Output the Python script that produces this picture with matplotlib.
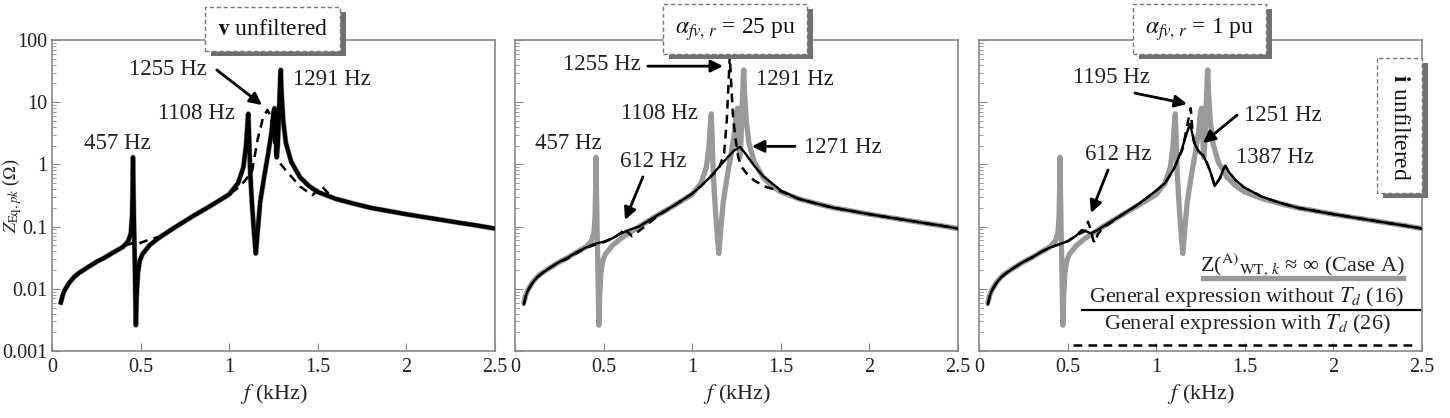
import matplotlib.pyplot as plt
from matplotlib.lines import Line2D
from matplotlib.patches import Rectangle
from matplotlib.transforms import IdentityTransform

plt.rcParams['font.family'] = ['Liberation Serif', 'DejaVu Serif']
plt.rcParams['mathtext.fontset'] = 'stix'

# Case A: Z_WT,k -> infinity (same in all three panels)
f_A = [0.05, 0.06, 0.07, 0.085, 0.1, 0.125, 0.15, 0.2, 0.25, 0.3, 0.35, 0.4, 0.43, 0.445,
       0.452, 0.455, 0.457, 0.459, 0.463, 0.468, 0.473, 0.478, 0.485, 0.495, 0.51, 0.55, 0.6,
       0.7, 0.8, 0.9, 1.0, 1.05, 1.08, 1.095, 1.103, 1.108, 1.112, 1.118, 1.128, 1.14, 1.15,
       1.16, 1.175, 1.2, 1.22, 1.24, 1.25, 1.256, 1.262, 1.268, 1.274, 1.282, 1.288, 1.291,
       1.295, 1.305, 1.32, 1.35, 1.4, 1.45, 1.5, 1.6, 1.7, 1.8, 1.9, 2.0, 2.1, 2.2, 2.3, 2.4,
       2.5]
Z_A = [0.006, 0.0078, 0.0093, 0.011, 0.0128, 0.0155, 0.0178, 0.022, 0.027, 0.032, 0.039,
       0.047, 0.058, 0.078, 0.15, 0.4, 1.3, 0.5, 0.1, 0.02, 0.0026, 0.008, 0.018, 0.028, 0.036,
       0.05, 0.065, 0.1, 0.15, 0.22, 0.33, 0.5, 0.9, 2.0, 4.5, 6.5, 3.0, 0.8, 0.25, 0.08,
       0.037, 0.08, 0.25, 0.7, 1.5, 3.5, 7.0, 8.0, 3.0, 1.3, 2.0, 8.0, 25, 33, 15, 5.0, 2.2,
       1.1, 0.62, 0.45, 0.36, 0.28, 0.235, 0.2, 0.178, 0.158, 0.142, 0.128, 0.115, 0.104,
       0.093]

# panel 1 (v unfiltered): general expression with Td (26)
f_d1 = [0.05, 0.06, 0.07, 0.085, 0.1, 0.125, 0.15, 0.2, 0.25, 0.3, 0.35, 0.4, 0.42, 0.45,
        0.48, 0.5, 0.55, 0.6, 0.7, 0.8, 0.9, 1.0, 1.06, 1.1, 1.13, 1.16, 1.19, 1.215, 1.235,
        1.25, 1.26, 1.28, 1.32, 1.4, 1.47, 1.52, 1.57, 1.6, 1.7, 1.8, 1.9, 2.0, 2.1, 2.2, 2.3,
        2.4, 2.5]
Z_d1 = [0.006, 0.0078, 0.0093, 0.011, 0.0128, 0.0155, 0.0178, 0.022, 0.027, 0.032, 0.039,
        0.046, 0.05, 0.054, 0.05, 0.055, 0.062, 0.068, 0.1, 0.15, 0.22, 0.33, 0.44, 0.6, 0.8,
        2.5, 5.5, 7.5, 6.0, 3.0, 1.5, 1.1, 0.8, 0.44, 0.32, 0.45, 0.32, 0.28, 0.235, 0.2,
        0.178, 0.158, 0.142, 0.128, 0.115, 0.104, 0.093]

# panel 2 (alpha = 25 pu)
f_s2 = [0.05, 0.06, 0.07, 0.085, 0.1, 0.125, 0.15, 0.2, 0.25, 0.3, 0.35, 0.4, 0.45, 0.5,
        0.55, 0.6, 0.65, 0.7, 0.8, 0.9, 1.0, 1.05, 1.1, 1.15, 1.2, 1.24, 1.271, 1.3, 1.35, 1.4,
        1.5, 1.6, 1.7, 1.8, 1.9, 2.0, 2.1, 2.2, 2.3, 2.4, 2.5]
Z_s2 = [0.0056, 0.0075, 0.009, 0.0108, 0.0126, 0.0153, 0.0176, 0.022, 0.027, 0.032, 0.039,
        0.046, 0.053, 0.057, 0.065, 0.078, 0.09, 0.1, 0.15, 0.22, 0.34, 0.45, 0.62, 0.9, 1.3,
        1.7, 1.9, 1.5, 0.95, 0.65, 0.38, 0.28, 0.235, 0.2, 0.178, 0.158, 0.142, 0.128, 0.115,
        0.104, 0.093]
f_d2 = [0.05, 0.06, 0.07, 0.085, 0.1, 0.125, 0.15, 0.2, 0.25, 0.3, 0.35, 0.4, 0.45, 0.5,
        0.55, 0.6, 0.615, 0.63, 0.66, 0.7, 0.75, 0.8, 0.9, 1.0, 1.05, 1.1, 1.15, 1.18, 1.195,
        1.205, 1.212, 1.22, 1.23, 1.245, 1.26, 1.28, 1.31, 1.35, 1.42, 1.5, 1.6, 1.7, 1.8,
        1.9, 2.0, 2.1, 2.2, 2.3, 2.4, 2.5]
Z_d2 = [0.0056, 0.0075, 0.009, 0.0108, 0.0126, 0.0153, 0.0176, 0.022, 0.027, 0.031, 0.038,
        0.045, 0.051, 0.056, 0.064, 0.08, 0.095, 0.085, 0.07, 0.085, 0.11, 0.145, 0.22, 0.34,
        0.45, 0.62, 0.85, 1.5, 5.0, 20, 55, 20, 6.0, 2.5, 1.3, 0.9, 0.7, 0.55, 0.43, 0.37,
        0.28, 0.235, 0.2, 0.178, 0.158, 0.142, 0.128, 0.115, 0.104, 0.093]

# panel 3 (alpha = 1 pu)
f_s3 = [0.05, 0.06, 0.07, 0.085, 0.1, 0.125, 0.15, 0.2, 0.25, 0.3, 0.35, 0.4, 0.5, 0.55,
        0.58, 0.6, 0.63, 0.66, 0.7, 0.8, 0.9, 1.0, 1.05, 1.1, 1.14, 1.17, 1.19, 1.2, 1.215,
        1.235, 1.25, 1.265, 1.29, 1.31, 1.33, 1.36, 1.38, 1.39, 1.41, 1.45, 1.5, 1.6, 1.7,
        1.8, 1.9, 2.0, 2.1, 2.2, 2.3, 2.4, 2.5]
Z_s3 = [0.0056, 0.0075, 0.009, 0.0108, 0.0126, 0.0153, 0.0176, 0.022, 0.027, 0.032, 0.039,
        0.046, 0.058, 0.072, 0.088, 0.085, 0.078, 0.085, 0.1, 0.15, 0.23, 0.38, 0.5, 0.85,
        1.6, 3.0, 4.5, 3.5, 2.2, 1.7, 1.5, 1.4, 1.0, 0.7, 0.45, 0.6, 0.85, 0.95, 0.75, 0.55,
        0.42, 0.3, 0.24, 0.2, 0.178, 0.158, 0.142, 0.128, 0.115, 0.104, 0.093]
f_d3 = [0.05, 0.06, 0.07, 0.085, 0.1, 0.125, 0.15, 0.2, 0.25, 0.3, 0.35, 0.4, 0.5, 0.55,
        0.6, 0.615, 0.63, 0.645, 0.655, 0.67, 0.7, 0.8, 0.9, 1.0, 1.05, 1.1, 1.15, 1.18,
        1.195, 1.2, 1.21, 1.235, 1.25, 1.265, 1.29, 1.31, 1.33, 1.36, 1.38, 1.39, 1.41, 1.45,
        1.5, 1.6, 1.7, 1.8, 1.9, 2.0, 2.1, 2.2, 2.3, 2.4, 2.5]
Z_d3 = [0.0056, 0.0075, 0.009, 0.0108, 0.0126, 0.0153, 0.0176, 0.022, 0.027, 0.032, 0.039,
        0.046, 0.058, 0.072, 0.085, 0.12, 0.09, 0.06, 0.055, 0.075, 0.095, 0.15, 0.23, 0.38,
        0.5, 0.85, 1.8, 5.0, 8.0, 5.0, 2.5, 1.7, 1.5, 1.4, 1.0, 0.7, 0.45, 0.6, 0.85, 0.95,
        0.75, 0.55, 0.42, 0.3, 0.24, 0.2, 0.178, 0.158, 0.142, 0.128, 0.115, 0.104, 0.093]

x_ticks = [0, 0.5, 1, 1.5, 2, 2.5]
x_ticklabels = ['0', '0.5', '1', '1.5', '2', '2.5']
y_ticks = [1e-3, 1e-2, 0.1, 1, 10, 100]
y_ticklabels = ['0.001', '0.01', '0.1', '1', '10', '100']

titles = [r'$\mathbf{v}$ unfiltered', r'$\alpha_{fv,\,r}$ = 25 pu', r'$\alpha_{fv,\,r}$ = 1 pu']

# (text, text pos, arrow tail, arrow tip)
notes = [
    [('457 Hz', (0.367, 2.2), None, None),
     ('1108 Hz', (0.818, 6.7), None, None),
     ('1255 Hz', (0.655, 33), (0.93, 33), (1.185, 9.0)),
     ('1291 Hz', (1.58, 23.6), None, None)],
    [('1255 Hz', (0.49, 40), (0.75, 38), (1.174, 38)),
     ('1291 Hz', (1.58, 23), None, None),
     ('1108 Hz', (0.818, 6.7), None, None),
     ('457 Hz', (0.30, 2.2), None, None),
     ('612 Hz', (0.779, 1.1), (0.722, 0.63), (0.621, 0.128)),
     ('1271 Hz', (1.85, 1.9), (1.58, 1.95), (1.337, 1.95))],
    [('1195 Hz', (0.75, 25), (0.88, 14), (1.174, 9.4)),
     ('1251 Hz', (1.716, 6.2), (1.456, 6.2), (1.264, 2.2)),
     ('1387 Hz', (1.67, 1.3), None, None),
     ('612 Hz', (0.784, 1.42), (0.728, 0.81), (0.632, 0.166))],
]

solid = [(f_A, Z_A), (f_s2, Z_s2), (f_s3, Z_s3)]
dashed = [(f_d1, Z_d1), (f_d2, Z_d2), (f_d3, Z_d3)]

fig = plt.figure(figsize=(14.5, 4.18), dpi=100)
lefts = [52, 515, 979]
axes = [fig.add_axes([l / 1450, 67 / 418, 443 / 1450, 311 / 418]) for l in lefts]

boxed = []  # (axes, text) pairs that get a drop shadow
box_style = dict(boxstyle='square,pad=0.5', fc='white', ec='#777777', ls=(0, (3, 2)), lw=1)

for i, ax in enumerate(axes):
    ax.plot(f_A, Z_A, color='#999999', lw=3.8, solid_capstyle='round', zorder=2)
    ax.plot(dashed[i][0], dashed[i][1], color='k', lw=1.8, ls=(0, (3.5, 2.5)), zorder=3)
    ax.plot(solid[i][0], solid[i][1], color='k', lw=3.0 if i == 0 else 1.7, zorder=4)

    ax.set_yscale('log')
    ax.set_xlim(0, 2.5)
    ax.set_ylim(1e-3, 100)
    ax.set_xticks(x_ticks)
    ax.set_xticklabels(x_ticklabels)
    ax.set_yticks(y_ticks)
    if i == 0:
        ax.set_yticklabels(y_ticklabels)
    else:
        ax.set_yticklabels([])
    ax.tick_params(which='both', direction='in', color='#888888', top=False, right=False,
                   labelsize=14.5, labelcolor='#222222')
    ax.tick_params(which='major', length=6, pad=5)
    ax.tick_params(which='minor', length=3)
    ax.tick_params(axis='y', pad=3)
    for s in ax.spines.values():
        s.set_color('#888888')
        s.set_linewidth(1.2)

    ax.set_xlabel(r'$f$ (kHz)', fontsize=16, color='#222222')
    ax.xaxis.set_label_coords(0.5, -0.1)

    t = ax.text(0.497, 1.035, titles[i], transform=ax.transAxes, ha='center', va='center',
                fontsize=17, color='#111111', zorder=10, clip_on=False, bbox=box_style)
    boxed.append((ax, t))

    for txt, pos, tail, tip in notes[i]:
        ax.text(pos[0], pos[1], txt, ha='center', va='center', fontsize=16.5,
                color='#222222', zorder=6)
        if tail is not None:
            ax.annotate('', xy=tip, xytext=tail,
                        arrowprops=dict(arrowstyle='-|>', color='k', lw=2,
                                        mutation_scale=18, shrinkA=0, shrinkB=0), zorder=7)

axes[0].text(-0.089, 0.5, r'$Z_{\mathrm{Eq},\,pk}$ ($\Omega$)', transform=axes[0].transAxes,
             rotation=90, ha='center', va='center', fontsize=13, color='#222222')

# vertical boxed label on the right
ax3 = axes[2]
t = ax3.text(0.949, 0.725, r' $\mathbf{i}$ unfiltered ', transform=ax3.transAxes,
             ha='center', va='center', rotation=270, fontsize=17, color='#111111', zorder=10,
             clip_on=False, bbox=box_style)
boxed.append((ax3, t))

# legend drawn as text with the line under each entry
leg_fs = 16
ax3.text(0.731, 0.2765, r'Z($^{\mathrm{A)}}$$_{\mathrm{WT,}\,k}$ ≈ ∞ (Case A)',
         transform=ax3.transAxes, ha='center', va='center', fontsize=leg_fs, color='#222222',
         zorder=8)
ax3.add_line(Line2D([0.506, 0.957], [0.2347, 0.2347], transform=ax3.transAxes,
                    color='#999999', lw=3.8, zorder=8))
ax3.text(0.605, 0.1736, r'General expression without $T_d$ (16)', transform=ax3.transAxes,
         ha='center', va='center', fontsize=leg_fs, color='#222222', zorder=8)
ax3.add_line(Line2D([0.2325, 0.9955], [0.132, 0.132], transform=ax3.transAxes,
                    color='k', lw=1.6, zorder=8))
ax3.text(0.606, 0.0868, r'General expression with $T_d$ (26)', transform=ax3.transAxes,
         ha='center', va='center', fontsize=leg_fs, color='#222222', zorder=8)
ax3.add_line(Line2D([0.212, 0.98], [0.019, 0.019], transform=ax3.transAxes,
                    color='k', lw=1.8, ls=(0, (3.5, 2.5)), zorder=8))

# drop shadows behind the boxed labels
fig.canvas.draw()
renderer = fig.canvas.get_renderer()
for ax, t in boxed:
    bb = t.get_bbox_patch().get_window_extent(renderer)
    ax.add_patch(Rectangle((bb.x0 + 6, bb.y0 - 5), bb.width, bb.height,
                           transform=IdentityTransform(), fc='#707070', ec='none',
                           zorder=9, clip_on=False))

plt.savefig('out.png', dpi=100, facecolor='white')
